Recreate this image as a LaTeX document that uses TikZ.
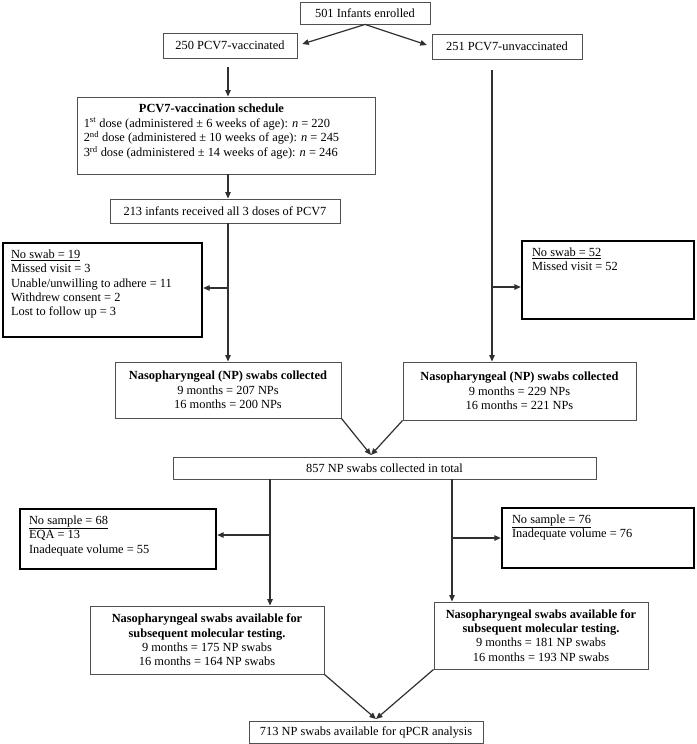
\documentclass[tikz,border=0pt]{standalone}
\usepackage{fontspec}
\setmainfont{Liberation Serif}
\usetikzlibrary{arrows.meta,calc}
\definecolor{boxgray}{HTML}{505050}
\definecolor{linegray}{HTML}{303030}
\begin{document}
\begin{tikzpicture}[x=1pt,y=-1pt,
  box/.style={draw=boxgray, line width=0.9pt, inner sep=0pt, align=center},
  thickbox/.style={draw=black, line width=2.4pt, inner sep=0pt},
  txt/.style={inner sep=0pt, align=left, anchor=north west},
  arr/.style={draw=linegray, line width=1.2pt, -{Triangle[length=6.5pt,width=5.5pt]}},
  font=\fontsize{12.4}{14.3}\selectfont]
\fill[white] (0,0) rectangle (696,744);
\useasboundingbox (0,0) rectangle (696,744);
\coordinate (lx) at (228,0);
\coordinate (rtop) at (492,70);
\coordinate (lin) at (270,0);
\coordinate (rin) at (452,0);
\coordinate (c1) at (371,455);
\coordinate (c2) at (376,719);
% top
\node[box, minimum width=130, minimum height=22] (enr) at (365,13) {501 Infants enrolled};
\node[box, minimum width=134, minimum height=25] (vac) at (230,45.5) {250 PCV7-vaccinated};
\node[box, minimum width=150, minimum height=25] (unv) at (507,46.5) {251 PCV7-unvaccinated};
% schedule
\node[box, minimum width=298, minimum height=77] (sch) at (226,135.5) {};
\node[txt] (scht) at ([xshift=7pt,yshift=-6pt]sch.north west) {\begin{tabular}{@{}l@{}}\multicolumn{1}{@{}c@{}}{\textbf{PCV7-vaccination schedule}}\\
1\textsuperscript{st} dose (administered ± 6 weeks of age): \textit{n} = 220\\
2\textsuperscript{nd} dose (administered ± 10 weeks of age): \textit{n} = 245\\
3\textsuperscript{rd} dose (administered ± 14 weeks of age): \textit{n} = 246\end{tabular}};
\node[box, minimum width=230, minimum height=24] (all) at (225,211) {213 infants received all 3 doses of PCV7};
% no swab boxes
\node[thickbox, minimum width=199, minimum height=94] (lns) at (102.5,290) {};
\node[txt] (lnst) at ([xshift=9pt,yshift=-8pt]lns.north west) {\underline{No swab = 19}\\Missed visit = 3\\Unable/unwilling to adhere = 11\\Withdrew consent = 2\\Lost to follow up = 3};
\node[thickbox, minimum width=172, minimum height=78] (rns) at (608,280) {};
\node[txt] (rnst) at ([xshift=11pt,yshift=-8pt]rns.north west) {\underline{No swab = 52}\\Missed visit = 52};
% NP collected
\node[box, minimum width=226, minimum height=56] (lnp) at (228,390) {\textbf{Nasopharyngeal (NP) swabs collected}\\9 months = 207 NPs\\16 months = 200 NPs};
\node[box, minimum width=233, minimum height=58] (rnp) at (519.5,391) {\textbf{Nasopharyngeal (NP) swabs collected}\\9 months = 229 NPs\\16 months = 221 NPs};
\node[box, minimum width=423, minimum height=22] (tot) at (384.5,468) {857 NP swabs collected in total};
% no sample boxes
\node[thickbox, minimum width=196, minimum height=60] (lnsa) at (118,539) {};
\node[txt] (lnsat) at ([xshift=10pt,yshift=-8pt]lnsa.north west) {\underline{No sample = 68}\\EQA = 13\\Inadequate volume = 55};
\node[thickbox, minimum width=192, minimum height=60] (rnsa) at (598,538) {};
\node[txt] (rnsat) at ([xshift=11pt,yshift=-8pt]rnsa.north west) {\underline{No sample = 76}\\Inadequate volume = 76};
% available
\node[box, minimum width=234, minimum height=68] (lbot) at (207,640) {\textbf{Nasopharyngeal swabs available for}\\\textbf{subsequent molecular testing.}\\9 months = 175 NP swabs\\16 months = 164 NP swabs};
\node[box, minimum width=214, minimum height=67] (rbot) at (541,635.5) {\textbf{Nasopharyngeal swabs available for}\\\textbf{subsequent molecular testing.}\\9 months = 181 NP swabs\\16 months = 193 NP swabs};
\node[box, minimum width=234, minimum height=22] (fin) at (366,732) {713 NP swabs available for qPCR analysis};
% connectors
\draw[arr, shorten >=5pt] (enr.south) -- (vac.east);
\draw[arr, shorten >=5pt] (enr.south) -- (unv.west);
\draw[arr] ($(vac.south -| lx)+(0,9)$) -- (sch.north -| lx);
\draw[arr] (sch.south -| lx) -- (all.north -| lx);
\draw[arr] (all.south -| lx) -- (lnp.north -| lx);
\draw[arr] ($(lns.east -| lx)+(0,-2)$) -- ($(lns.east)+(0,-2)$);
\draw[arr] (rtop) -- (rnp.north -| rtop);
\draw[arr] ($(rns.west -| rtop)+(0,7)$) -- ($(rns.west)+(0,7)$);
\draw[arr] (lnp.south east) -- (c1);
\draw[arr] (rnp.south west) -- (c1);
\draw[arr] (tot.south -| lin) -- (lbot.north -| lin);
\draw[arr] ($(lnsa.east -| lin)+(0,-4)$) -- ($(lnsa.east)+(0,-4)$);
\draw[arr] (tot.south -| rin) -- (rbot.north -| rin);
\draw[arr] (rnsa.west -| rin) -- (rnsa.west);
\draw[arr] (lbot.south east) -- (c2);
\draw[arr] (rbot.south west) -- (c2);
\end{tikzpicture}
\end{document}
